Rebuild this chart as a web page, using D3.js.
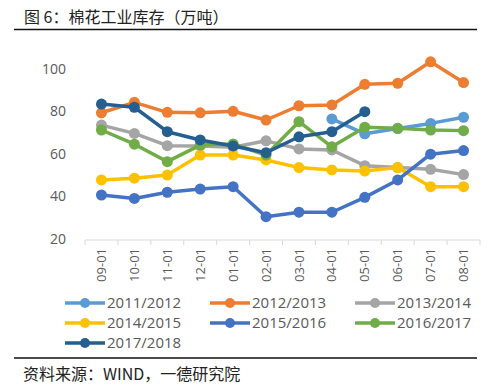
<!DOCTYPE html>
<html><head><meta charset="utf-8">
<script src="https://cdn.jsdelivr.net/npm/d3@7"></script>
<style>body{margin:0;background:#fff}svg{display:block}</style>
</head><body><svg id="c" width="500" height="386"></svg>
<script>
const categories = ["09-01","10-01","11-01","12-01","01-01","02-01","03-01","04-01","05-01","06-01","07-01","08-01"];
const yTicks = [20,40,60,80,100];
const seriesNames = ["2011/2012","2012/2013","2013/2014","2014/2015","2015/2016","2016/2017","2017/2018"];
const seriesColors = ["#5B9BD5","#ED7D31","#A5A5A5","#FFC000","#4472C4","#70AD47","#255E91"];
const s2011 = [null,null,null,null,null,null,null,76.5,69.5,72,74.4,77.3];
const s2012 = [79.4,84.3,79.6,79.4,80.1,76,82.7,83.1,92.8,93.3,103.4,93.6];
const s2013 = [73.6,69.7,63.9,63.8,63.2,66.2,62.4,61.9,54.5,53.6,52.8,50.3];
const s2014 = [47.8,48.6,50.1,59.5,59.5,57.2,53.6,52.5,52,53.6,44.6,44.6];
const s2015 = [40.7,39.1,42,43.5,44.6,30.5,32.6,32.6,39.6,47.8,59.9,61.6];
const s2016 = [71.3,64.6,56.4,64.2,64.7,59.5,75.2,63.4,72.6,72.1,71.3,71];
const s2017 = [83.5,82,70.5,66.6,63.8,60.6,68.1,70.5,79.9,null,null,null];
const seriesValues = [s2011,s2012,s2013,s2014,s2015,s2016,s2017];

const svg = d3.select("#c");
const x = d3.scaleBand().domain(categories).range([85,480]);
const y = d3.scaleLinear().domain([20,100]).range([239,69]);

// title
svg.append("text").attr("x",24).attr("y",23).attr("font-family","Noto Sans CJK SC").attr("font-size",16).attr("fill","#222").text("图 6：棉花工业库存（万吨）");
svg.append("line").attr("x1",14).attr("x2",477).attr("y1",29.5).attr("y2",29.5).attr("stroke","#111").attr("stroke-width",1.5);

// y labels
svg.append("g").selectAll("text").data(yTicks).join("text")
  .attr("x",66).attr("y",d=>y(d)).attr("dy","0.35em").attr("text-anchor","end")
  .attr("font-family","Open Sans").attr("font-size",14).attr("fill","#595959").text(d=>d);

// x axis
const xa = svg.append("g").attr("transform","translate(0,240)");
xa.append("line").attr("x1",85).attr("x2",480).attr("stroke","#D9D9D9").attr("stroke-width",1);
xa.selectAll("line.t").data(d3.range(categories.length+1)).join("line").attr("class","t")
  .attr("x1",i=>85+i*x.step()).attr("x2",i=>85+i*x.step()).attr("y1",0).attr("y2",5).attr("stroke","#D9D9D9");
xa.selectAll("text").data(categories).join("text")
  .attr("transform",d=>`translate(${x(d)+x.bandwidth()/2},8) rotate(-90)`)
  .attr("text-anchor","end").attr("dy","0.35em")
  .attr("font-family","Open Sans").attr("font-size",13).attr("fill","#595959").text(d=>d);

// series
const line = d3.line().defined(d=>d!=null).x((d,i)=>x(categories[i])+x.bandwidth()/2).y(d=>y(d));
seriesValues.forEach((vals,k)=>{
  const g = svg.append("g");
  g.append("path").attr("d",line(vals)).attr("fill","none").attr("stroke",seriesColors[k]).attr("stroke-width",3.5).attr("stroke-linejoin","round");
  g.selectAll("circle").data(vals.map((v,i)=>({v,i})).filter(d=>d.v!=null)).join("circle")
    .attr("cx",d=>x(categories[d.i])+x.bandwidth()/2).attr("cy",d=>y(d.v)).attr("r",5.5).attr("fill",seriesColors[k]);
});

// legend
const colX = [65,210,355], rowY = [303,323,343];
seriesNames.forEach((n,k)=>{
  const cx = colX[k%3], cy = rowY[Math.floor(k/3)];
  const g = svg.append("g");
  g.append("line").attr("x1",cx).attr("x2",cx+40).attr("y1",cy).attr("y2",cy).attr("stroke",seriesColors[k]).attr("stroke-width",3.5);
  g.append("circle").attr("cx",cx+20).attr("cy",cy).attr("r",5).attr("fill",seriesColors[k]);
  g.append("text").attr("x",cx+42).attr("y",cy).attr("dy","0.35em").attr("font-family","Open Sans").attr("font-size",15).attr("fill","#595959").text(n);
});

svg.append("line").attr("x1",14).attr("x2",477).attr("y1",358).attr("y2",358).attr("stroke","#111").attr("stroke-width",1.5);
svg.append("text").attr("x",23).attr("y",380).attr("font-family","Noto Sans CJK SC").attr("font-size",16).attr("fill","#222").text("资料来源：WIND，一德研究院");
</script></body></html>
